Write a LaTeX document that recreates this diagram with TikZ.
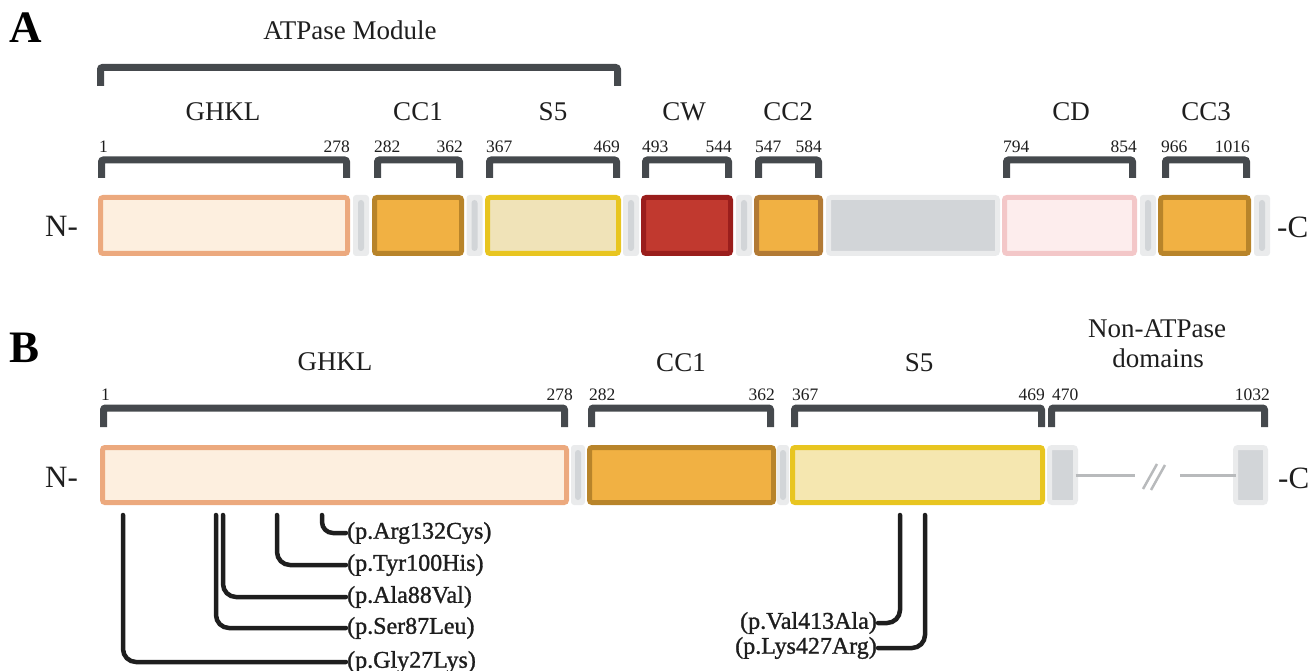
\documentclass[tikz,border=0pt]{standalone}
\usepackage{fontspec}
\setmainfont{Liberation Serif}
\newfontfamily\mutfont[FakeBold=1.2]{Liberation Serif}
\definecolor{txt}{HTML}{1E1E1E}
\definecolor{brkc}{HTML}{45494D}
\definecolor{ghklfill}{HTML}{FDEFDF}
\definecolor{ghkldraw}{HTML}{ECA97E}
\definecolor{ccfill}{HTML}{F1B143}
\definecolor{ccdraw}{HTML}{B8842A}
\definecolor{cctwodraw}{HTML}{B27A35}
\definecolor{sfivefillA}{HTML}{F0E3B8}
\definecolor{sfivefillB}{HTML}{F5E7B0}
\definecolor{sfivedraw}{HTML}{E8C520}
\definecolor{cwfill}{HTML}{C1392F}
\definecolor{cwdraw}{HTML}{9A1E1C}
\definecolor{cdfill}{HTML}{FDEDED}
\definecolor{cddraw}{HTML}{F3C7C8}
\definecolor{gapbg}{HTML}{EAEBEC}
\definecolor{gapbar}{HTML}{D2D5D8}
\definecolor{linkc}{HTML}{B8BABC}
\begin{document}
\begin{tikzpicture}[x=1pt,y=-1pt,
  dom/.style={rectangle, rounded corners=2.5, line width=5, inner sep=0, outer sep=0},
  domA/.style={dom, minimum height=56},
  domB/.style={dom, minimum height=55},
  gapbox/.style={rectangle, rounded corners=3, fill=gapbg, inner sep=0, outer sep=0,
     path picture={\fill[gapbar] ([xshift=-3,yshift=-5]path picture bounding box.north) rectangle ([xshift=3,yshift=5]path picture bounding box.south);}},
  gapA/.style={gapbox, minimum width=16, minimum height=61},
  gapB/.style={gapbox, minimum width=14, minimum height=60},
  greybox/.style={dom, fill=gapbar, draw=gapbg},
  brk/.style={draw=brkc, line width=7, rounded corners=2},
  lbl/.style={font=\fontsize{27}{30}\selectfont, text=txt, inner sep=0, anchor=base},
  num/.style={font=\fontsize{17.5}{20}\selectfont, text=txt, inner sep=0},
  term/.style={font=\fontsize{31}{34}\selectfont, text=txt, inner sep=0, anchor=base west},
  panel/.style={font=\fontsize{45}{48}\selectfont\bfseries, text=black, inner sep=0, anchor=base west},
  mutlbl/.style={font=\mutfont\fontsize{24}{26}\selectfont, text=txt, inner xsep=1, inner ysep=0},
  mut/.style={draw=txt, line width=4.5, rounded corners=13, line cap=round}
]
\useasboundingbox (0,0) rectangle (1312,671);

% ================= Panel A =================
\node[panel] (pA) at (9,43) {A};
\node[lbl] (atpase) at (350,40) {ATPase Module};
\draw[brk] (100.5,86) -- (100.5,67.5) -- (617.5,67.5) -- (617.5,86);

% domain labels
\node[lbl] (lghklA) at (223,121) {GHKL};
\node[lbl] (lcc1A) at (418,121) {CC1};
\node[lbl] (ls5A) at (553,121) {S5};
\node[lbl] (lcwA) at (684,121) {CW};
\node[lbl] (lcc2A) at (788,121) {CC2};
\node[lbl] (lcdA) at (1071,121) {CD};
\node[lbl] (lcc3A) at (1206,121) {CC3};

% brackets
\draw[brk] (101.5,178) -- (101.5,160) -- (346.5,160) -- (346.5,178);
\draw[brk] (377.5,178) -- (377.5,160) -- (459.5,160) -- (459.5,178);
\draw[brk] (489.5,178) -- (489.5,160) -- (616.5,160) -- (616.5,178);
\draw[brk] (645.5,178) -- (645.5,160) -- (728.5,160) -- (728.5,178);
\draw[brk] (758.5,178) -- (758.5,160) -- (818.5,160) -- (818.5,178);
\draw[brk] (1006.5,178) -- (1006.5,160) -- (1132.5,160) -- (1132.5,178);
\draw[brk] (1165.5,178) -- (1165.5,160) -- (1246.5,160) -- (1246.5,178);

% numbers
\node[num, anchor=base west] (nA1) at (99,153) {1};
\node[num, anchor=base east] (nA278) at (350,153) {278};
\node[num, anchor=base west] (nA282) at (374,153) {282};
\node[num, anchor=base east] (nA362) at (463,153) {362};
\node[num, anchor=base west] (nA367) at (486,153) {367};
\node[num, anchor=base east] (nA469) at (620,153) {469};
\node[num, anchor=base west] (nA493) at (642,153) {493};
\node[num, anchor=base east] (nA544) at (732,153) {544};
\node[num, anchor=base west] (nA547) at (755,153) {547};
\node[num, anchor=base east] (nA584) at (822,153) {584};
\node[num, anchor=base west] (nA794) at (1003,153) {794};
\node[num, anchor=base east] (nA854) at (1137,153) {854};
\node[num, anchor=base west] (nA966) at (1161,153) {966};
\node[num, anchor=base east] (nA1016) at (1250,153) {1016};

% boxes
\node[domA, fill=ghklfill, draw=ghkldraw, minimum width=247] (ghklA) at (224,225.5) {};
\node[gapA] (gA1) at (361,225.5) {};
\node[domA, fill=ccfill, draw=ccdraw, minimum width=87] (cc1A) at (418,225.5) {};
\node[gapA] (gA2) at (474.5,225.5) {};
\node[domA, fill=sfivefillA, draw=sfivedraw, minimum width=131] (s5A) at (553,225.5) {};
\node[gapA] (gA3) at (631,225.5) {};
\node[domA, fill=cwfill, draw=cwdraw, minimum width=87] (cwA) at (687,225.5) {};
\node[gapA] (gA4) at (744,225.5) {};
\node[domA, fill=ccfill, draw=cctwodraw, minimum width=64] (cc2A) at (788.5,225.5) {};
\node[greybox, minimum height=56, minimum width=169] (linkA) at (913,225.5) {};
\node[domA, fill=cdfill, draw=cddraw, minimum width=130] (cdA) at (1069.5,225.5) {};
\node[gapA] (gA5) at (1148,225.5) {};
\node[domA, fill=ccfill, draw=ccdraw, minimum width=88] (cc3A) at (1204.5,225.5) {};
\node[gapA] (gA6) at (1262,225.5) {};

\node[term] (nA) at (45,236.5) {N-};
\node[term] (cA) at (1277,237) {-C};

% ================= Panel B =================
\node[panel] (pB) at (9,362) {B};
\node[lbl] (lghklB) at (335,370) {GHKL};
\node[lbl] (lcc1B) at (681,371) {CC1};
\node[lbl] (ls5B) at (919,371) {S5};
\node[lbl] (lnonB) at (1157,337) {Non-ATPase};
\node[lbl] (ldomB) at (1158,367) {domains};

\draw[brk] (103.5,427) -- (103.5,408) -- (564.5,408) -- (564.5,427);
\draw[brk] (591.5,427) -- (591.5,408) -- (770.5,408) -- (770.5,427);
\draw[brk] (794.5,427) -- (794.5,408) -- (1041.5,408) -- (1041.5,427);
\draw[brk] (1051.5,427) -- (1051.5,408) -- (1264.5,408) -- (1264.5,427);

\node[num, anchor=base west] (nB1) at (101,400) {1};
\node[num, anchor=base east] (nB278) at (573,400) {278};
\node[num, anchor=base west] (nB282) at (589,400) {282};
\node[num, anchor=base east] (nB362) at (775,400) {362};
\node[num, anchor=base west] (nB367) at (792,400) {367};
\node[num, anchor=base east] (nB469) at (1045,400) {469};
\node[num, anchor=base west] (nB470) at (1052,400) {470};
\node[num, anchor=base east] (nB1032) at (1270,400) {1032};

\node[domB, fill=ghklfill, draw=ghkldraw, minimum width=464] (ghklB) at (334.5,475) {};
\node[gapB] (gB1) at (578,475) {};
\node[domB, fill=ccfill, draw=ccdraw, minimum width=184] (cc1B) at (681.5,475) {};
\node[gapB, minimum width=12] (gB2) at (783,475) {};
\node[domB, fill=sfivefillB, draw=sfivedraw, minimum width=250] (s5B) at (917.5,475) {};
\node[greybox, minimum height=55, minimum width=26] (endB1) at (1062.5,475) {};
\node[greybox, minimum height=55, minimum width=30] (endB2) at (1250.5,475) {};
\coordinate (brkL) at (1135,475);
\coordinate (brkR) at (1180,475);
\draw[draw=linkc, line width=3] (endB1.east) -- (brkL);
\draw[draw=linkc, line width=3] (brkR) -- (endB2.west);
\draw[draw=linkc, line width=2.5] (1143,489) -- (1157,464);
\draw[draw=linkc, line width=2.5] (1151,490) -- (1165,465);

\node[term] (nB) at (45,487) {N-};
\node[term] (cB) at (1278,488) {-C};

% mutations
\node[mutlbl, anchor=west] (arg) at (346,533) {(p.Arg132Cys)};
\node[mutlbl, anchor=west] (tyr) at (346,565) {(p.Tyr100His)};
\node[mutlbl, anchor=west] (ala) at (346,597) {(p.Ala88Val)};
\node[mutlbl, anchor=west] (ser) at (346,628) {(p.Ser87Leu)};
\node[mutlbl, anchor=west] (gly) at (346,662) {(p.Gly27Lys)};
\node[mutlbl, anchor=east] (val) at (878,623) {(p.Val413Ala)};
\node[mutlbl, anchor=east] (lys) at (878,648) {(p.Lys427Arg)};

\coordinate (m27) at (123,515);
\coordinate (m87) at (216,515);
\coordinate (m88) at (223,515);
\coordinate (m100) at (277,515);
\coordinate (m132) at (322,515);
\coordinate (m413) at (900,515);
\coordinate (m427) at (925,515);

\draw[mut] (m27) |- (gly.west);
\draw[mut] (m87) |- (ser.west);
\draw[mut] (m88) |- (ala.west);
\draw[mut] (m100) |- (tyr.west);
\draw[mut, rounded corners=11] (m132) |- (arg.west);
\draw[mut] (m413) |- (val.east);
\draw[mut] (m427) |- (lys.east);
\end{tikzpicture}
\end{document}
